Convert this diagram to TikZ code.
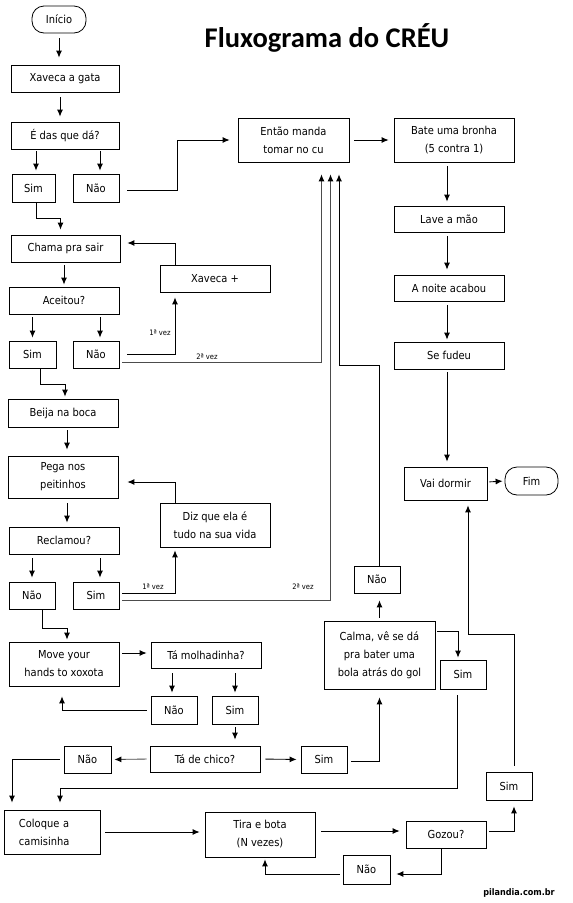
\documentclass[tikz,border=0pt]{standalone}
\usepackage{fontspec}
\newfontfamily\boxfont[FakeStretch=0.9]{DejaVu Sans}
\newfontfamily\titlefont{Carlito}
\usetikzlibrary{arrows.meta,calc}
\tikzset{
  box/.style={draw, line width=0.8pt, inner sep=0pt, align=center,
    font=\boxfont\fontsize{11}{18}\selectfont},
  term/.style={box, rounded corners=12pt},
  arr/.style={draw, line width=0.85pt, -{Latex[length=7pt,width=6pt,color=black]},
    shorten <=4pt, shorten >=4pt},
  grayline/.style={draw=black!70},
  lbl/.style={font=\boxfont\fontsize{7.5}{9}\selectfont, inner sep=0pt}
}
\begin{document}
\begin{tikzpicture}[x=1pt,y=-1pt]
\useasboundingbox[fill=white] (0,0) rectangle (573,903);

\node[font=\titlefont\bfseries\fontsize{28.5}{30}\selectfont, anchor=base] (title) at (327,47) {Fluxograma do CRÉU};

% left column
\node[term, minimum width=54pt, minimum height=27pt] (inicio) at (59,19.5) {Início};
\node[box, minimum width=108pt, minimum height=27pt] (xaveca) at (65,78.5) {Xaveca a gata};
\node[box, minimum width=108pt, minimum height=27pt] (edas) at (65,135.5) {É das que dá?};
\node[box, minimum width=43pt, minimum height=28pt] (sim1) at (33.5,188) {Sim};
\node[box, minimum width=46pt, minimum height=28pt] (nao1) at (96,188) {Não};
\node[box, minimum width=109pt, minimum height=27pt] (chama) at (65.5,248.5) {Chama pra sair};
\node[box, minimum width=110pt, minimum height=27pt] (xavecamais) at (215,278.5) {Xaveca +};
\node[box, minimum width=110pt, minimum height=27pt] (aceitou) at (64,300.5) {Aceitou?};
\node[box, minimum width=47pt, minimum height=27pt] (sim2) at (32.5,354.5) {Sim};
\node[box, minimum width=46pt, minimum height=27pt] (nao2) at (96,354.5) {Não};
\node[box, minimum width=110pt, minimum height=28pt] (beija) at (63,413) {Beija na boca};
\node[box, minimum width=110pt, minimum height=42pt] (pega) at (63,477) {Pega nos\\peitinhos};
\node[box, minimum width=110pt, minimum height=44pt] (diz) at (215,525) {Diz que ela é\\tudo na sua vida};
\node[box, minimum width=110pt, minimum height=27pt] (reclamou) at (64,540.5) {Reclamou?};
\node[box, minimum width=46pt, minimum height=27pt] (nao3) at (32,595.5) {Não};
\node[box, minimum width=46pt, minimum height=27pt] (sim3) at (96,595.5) {Sim};
\node[box, minimum width=110pt, minimum height=44pt] (move) at (64,664) {Move your\\hands to xoxota};
\node[box, minimum width=110pt, minimum height=26pt] (molhad) at (206,655) {Tá molhadinha?};
\node[box, minimum width=46pt, minimum height=28pt] (nao4) at (174,710) {Não};
\node[box, minimum width=46pt, minimum height=28pt] (sim4) at (235,710) {Sim};
\node[box, minimum width=110pt, minimum height=26pt] (chico) at (205,759) {Tá de chico?};
\node[box, minimum width=47pt, minimum height=27pt] (nao5) at (87.5,759.5) {Não};
\node[box, minimum width=46pt, minimum height=27pt] (sim5) at (324,759.5) {Sim};
\node[box, minimum width=96pt, minimum height=44pt, text width=66pt, inner xsep=15pt, align=left] (coloque) at (52,832) {Coloque a\\camisinha};
\node[box, minimum width=110pt, minimum height=45pt] (tira) at (260,834.5) {Tira e bota\\(N vezes)};
\node[box, minimum width=80pt, minimum height=27pt] (gozou) at (446,834.5) {Gozou?};
\node[box, minimum width=46pt, minimum height=28pt] (sim7) at (509,786) {Sim};
\node[box, minimum width=47pt, minimum height=29pt] (nao7) at (366.5,869.5) {Não};

% right column
\node[box, minimum width=111pt, minimum height=44pt] (entao) at (293.5,140) {Então manda\\tomar no cu};
\node[box, minimum width=120pt, minimum height=44pt] (bate) at (454,140) {Bate uma bronha\\(5 contra 1)};
\node[box, minimum width=110pt, minimum height=26pt] (lave) at (449,219) {Lave a mão};
\node[box, minimum width=110pt, minimum height=26pt] (noite) at (449,288) {A noite acabou};
\node[box, minimum width=110pt, minimum height=27pt] (sefudeu) at (449,355.5) {Se fudeu};
\node[box, minimum width=83pt, minimum height=33pt] (vaidormir) at (445.5,483.5) {Vai dormir};
\node[term, minimum width=53pt, minimum height=28pt] (fim) at (531.5,481) {Fim};
\node[box, minimum width=111pt, minimum height=68pt] (calma) at (379.5,655) {Calma, vê se dá\\pra bater uma\\bola atrás do gol};
\node[box, minimum width=46pt, minimum height=27pt] (nao6) at (377,579.5) {Não};
\node[box, minimum width=46pt, minimum height=29pt] (sim6) at (463,674.5) {Sim};

% labels
\node[lbl] (l1a) at (160,333) {1ª vez};
\node[lbl] (l2a) at (207,357) {2ª vez};
\node[lbl] (l1b) at (153,587) {1ª vez};
\node[lbl] (l2b) at (303,587) {2ª vez};
\node[font=\boxfont\bfseries\fontsize{9}{11}\selectfont, inner sep=0pt] (site) at (519,893) {pilandia.com.br};

% connectors
\draw[arr, shorten <=5pt, shorten >=7pt] (inicio.south) -- (inicio.south |- xaveca.north);
\draw[arr, shorten <=5pt, shorten >=5pt] ($(xaveca.south)+(-5,0)$) -- ($(edas.north)+(-5,0)$);
\draw[arr, shorten <=2pt, shorten >=3pt] ($(sim1.north |- edas.south)+(2.5,0)$) -- ($(sim1.north)+(2.5,0)$);
\draw[arr, shorten <=2pt, shorten >=3pt] ($(nao1.north |- edas.south)+(4,0)$) -- ($(nao1.north)+(4,0)$);
\draw[arr, shorten <=8pt, shorten >=8pt] ($(nao1.east)+(0,2)$) -- ++(58,0) |- (entao.west);
\draw[arr, shorten <=0pt, shorten >=5pt] ($(sim1.south)+(2.5,0)$) -- ++(0,16) -| ($(chama.north)+(-5,0)$);
\draw[arr, shorten <=5pt, shorten >=5pt] (entao.east) -- (bate.west);
\draw[arr, shorten <=4pt, shorten >=4pt] ($(bate.south)+(-7,0)$) -- ($(lave.north)+(-2,0)$);
\draw[arr, shorten <=4pt, shorten >=5pt] ($(lave.south)+(-2,0)$) -- ($(noite.north)+(-2,0)$);
\draw[arr, shorten <=4pt, shorten >=2pt] ($(noite.south)+(-2,0)$) -- ($(sefudeu.north)+(-2,0)$);
\draw[arr, shorten <=3pt, shorten >=5pt] ($(sefudeu.south)+(-2,0)$) -- ($(vaidormir.north)+(1.5,0)$);
\draw[arr, shorten <=0pt, shorten >=7pt] ($(xavecamais.north)+(-40,0)$) |- ($(chama.east)+(0,-5.5)$);
\draw[arr, shorten <=3pt, shorten >=2pt] ($(chama.south)+(-1.5,0)$) -- (aceitou.north);
\draw[arr, shorten <=3pt, shorten >=3pt] (sim2.north |- aceitou.south) -- (sim2.north);
\draw[arr, shorten <=3pt, shorten >=3pt] ($(nao2.north |- aceitou.south)+(4,0)$) -- ($(nao2.north)+(4,0)$);
\draw[arr, shorten <=8pt, shorten >=5pt] (nao2.east) -| ($(xavecamais.south)+(-40,0)$);
\draw[arr, grayline, shorten <=3pt, shorten >=12pt] ($(nao2.east)+(0,7.5)$) -| ($(entao.south)+(28,0)$);
\draw[arr, shorten <=0pt, shorten >=2pt] ($(sim2.south)+(7.5,0)$) -- ++(0,16) -| ($(beija.north)+(2,0)$);
\draw[arr, shorten <=3pt, shorten >=6pt] ($(beija.south)+(4,0)$) -- ($(pega.north)+(4,0)$);
\draw[arr, shorten <=5pt, shorten >=4pt] ($(pega.south)+(4,0)$) -- ($(reclamou.north)+(3,0)$);
\draw[arr, shorten <=0pt, shorten >=9pt] ($(diz.north)+(-40,0)$) |- ($(pega.east)+(0,5)$);
\draw[arr, shorten <=4pt, shorten >=4pt] (nao3.north |- reclamou.south) -- (nao3.north);
\draw[arr, shorten <=4pt, shorten >=4pt] ($(sim3.north |- reclamou.south)+(4,0)$) -- ($(sim3.north)+(4,0)$);
\draw[arr, shorten <=3pt, shorten >=3pt] ($(sim3.east)+(0,-2.5)$) -| ($(diz.south)+(-40,0)$);
\draw[arr, grayline, shorten <=3pt, shorten >=12pt] ($(sim3.east)+(0,4.5)$) -| ($(entao.south)+(37,0)$);
\draw[arr, shorten <=0pt, shorten >=2pt] ($(nao3.south)+(10,0)$) -- ++(0,19) -| ($(move.north)+(3,0)$);
\draw[arr, shorten <=3pt, shorten >=4pt] ($(move.east)+(0,-11)$) -- ($(molhad.west)+(0,-2)$);
\draw[arr, shorten <=5pt, shorten >=3pt] ($(nao4.north |- molhad.south)+(-2,0)$) -- ($(nao4.north)+(-2,0)$);
\draw[arr, shorten <=5pt, shorten >=3pt] (sim4.north |- molhad.south) -- (sim4.north);
\draw[arr, shorten <=4pt, shorten >=10pt] (nao4.west) -| ($(move.south)+(-2,0)$);
\draw[arr, shorten <=3pt, shorten >=6pt] (sim4.south) -- (sim4.south |- chico.north);
\draw[arr, grayline, shorten <=3pt, shorten >=3pt] (chico.west) -- (nao5.east);
\draw[arr, shorten <=4pt, shorten >=7pt] (nao5.west) -| ($(coloque.north)+(-40,0)$);
\draw[arr, shorten <=5pt, shorten >=4pt] (chico.east) -- (sim5.west);
\draw[arr, shorten <=4pt, shorten >=8pt] ($(sim5.east)+(0,1.5)$) -| (calma.south);
\draw[arr, shorten <=3pt, shorten >=7pt] (calma.north) -- (calma.north |- nao6.south);
\draw[arr, shorten <=0pt, shorten >=12pt] ($(nao6.north)+(2,0)$) -- ++(0,-200) -| ($(entao.south)+(45.5,0)$);
\draw[arr, shorten <=2pt, shorten >=2pt] ($(calma.east)+(0,-24)$) -| ($(sim6.north)+(-5,0)$);
\draw[arr, shorten <=6pt, shorten >=7pt] ($(sim6.south)+(-6,0)$) -- ++(0,99) -| ($(coloque.north)+(8,0)$);
\draw[arr, shorten <=5pt, shorten >=5pt] (coloque.east) -- (coloque.east -| tira.west);
\draw[arr, shorten <=6pt, shorten >=6pt] ($(tira.east)+(0,-3.5)$) -- ($(gozou.west)+(0,-3.5)$);
\draw[arr, shorten <=3pt, shorten >=6pt] ($(gozou.east)+(0,-3.5)$) -| ($(sim7.south)+(5,0)$);
\draw[arr, shorten <=6pt, shorten >=5pt] ($(sim7.north)+(5,0)$) -- ++(0,-137) -| ($(vaidormir.south)+(22.5,0)$);
\draw[arr, shorten <=0pt, shorten >=6pt] ($(gozou.south)+(-5,0)$) |- ($(nao7.east)+(0,4.5)$);
\draw[arr, shorten <=3pt, shorten >=2pt] ($(nao7.west)+(0,4.5)$) -| ($(tira.south)+(5,0)$);
\draw[arr, shorten <=2pt, shorten >=2pt] ($(vaidormir.east)+(0,-1.5)$) -- (fim.west);
\end{tikzpicture}
\end{document}
